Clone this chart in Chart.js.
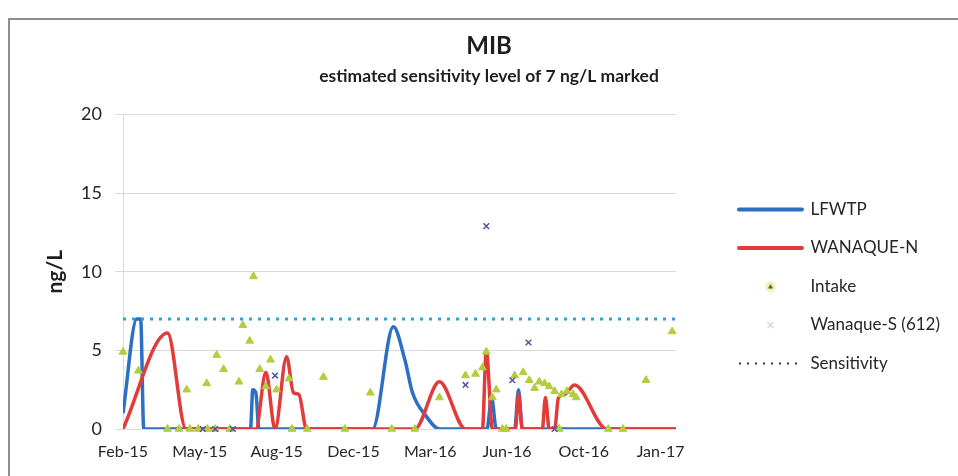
<!DOCTYPE html>
<html>
<head>
<meta charset="utf-8">
<script src="https://cdn.jsdelivr.net/npm/chart.js@4.4.1/dist/chart.umd.min.js"></script>
<style>
  html, body { margin: 0; padding: 0; background: #fff; }
  body { width: 958px; height: 476px; overflow: hidden; position: relative; }
  #frame { position: absolute; left: 8px; top: 18px; width: 950px; height: 458px;
           border-left: 2px solid #8f8f8f; border-top: 2px solid #8f8f8f; }
  #wrap { position: absolute; left: 0; top: 0; width: 948px; height: 456px; }
</style>
</head>
<body>
<div id="frame"><div id="wrap"><canvas id="myChart"></canvas></div></div>
<script>
// x values are days since the first sample (early Feb 2015), one tick every 100 days
const xTickLabels = ['Feb-15', 'May-15', 'Aug-15', 'Dec-15', 'Mar-16', 'Jun-16', 'Oct-16', 'Jan-17'];
const tickStepDays = 100;
const lastDay = 720;
const yTicks = [0, 5, 10, 15, 20];

// LFWTP (blue line)
const lfwtpDays   = [0, 18, 23, 27, 166, 169, 173, 177, 325, 352, 367, 377, 395, 412, 474, 480, 486, 510, 515, 520, 720];
const lfwtpValues = [1.0, 7.0, 7.0, 0, 0, 2.5, 2.3, 0, 0, 6.5, 4.4, 2.3, 0.8, 0, 0, 2.0, 0, 0, 2.5, 0, 0];

// WANAQUE-N (red line)
const wanaqueNDays   = [0, 58, 82, 173, 186, 198, 213, 222, 229, 239, 380, 412, 446, 468, 473, 481, 511, 515, 520, 546, 550, 555, 562, 567, 575, 588, 630, 720];
const wanaqueNValues = [0, 6.1, 0, 0, 3.6, 0, 4.6, 2.3, 2.2, 0, 0, 3.0, 0, 0, 5.0, 0, 0, 2.2, 0, 0, 2.0, 0, 0, 2.0, 2.2, 2.8, 0, 0];

// Intake (triangles)
const intakeDays   = [0, 20, 58, 73, 83, 87, 98, 109, 110, 120, 122, 131, 139, 151, 156, 165, 170, 178, 186, 192,
                      200, 216, 220, 240, 261, 289, 322, 350, 380, 412, 446, 459, 468, 473, 481, 486, 494, 499, 510, 521,
                      529, 536, 542, 549, 555, 562, 568, 571, 578, 586, 590, 632, 651, 681, 715];
const intakeValues = [4.9, 3.7, 0, 0, 2.5, 0, 0, 2.9, 0, 0, 4.7, 3.8, 0, 3.0, 6.6, 5.6, 9.7, 3.8, 2.7, 4.4,
                      2.5, 3.2, 0, 0, 3.3, 0, 2.3, 0, 0, 2.0, 3.4, 3.5, 3.9, 4.9, 2.0, 2.5, 0, 0, 3.4, 3.6,
                      3.1, 2.6, 3.0, 2.9, 2.7, 2.4, 0, 2.2, 2.4, 2.2, 2.0, 0, 0, 3.1, 6.2];

// Wanaque-S (612) (crosses)
const wanaqueSDays   = [104, 120, 143, 198, 446, 473, 507, 528, 562];
const wanaqueSValues = [0, 0, 0, 3.4, 2.8, 12.9, 3.1, 5.5, 0];

// Sensitivity level (ng/L)
const sensitivityDays   = [0, 720];
const sensitivityValues = [7, 7];

const blue = '#2e6fc6';
const red = '#e23b3b';
const green = '#b3cd3c';
const purple = '#55519e';
const dotBlue = '#29a5de';
const textColor = '#1e1e1e';
const legendText = '#262626';

const toPoints = (days, values) => days.map((d, i) => ({ x: d, y: values[i] }));

// small marker images for the legend (the line samples use pointStyleWidth)
function markerImage(size, draw) {
  const c = document.createElement('canvas');
  c.width = size;
  c.height = size;
  draw(c.getContext('2d'), size);
  return c;
}
const legendTriangle = markerImage(12, (g, s) => {
  g.fillStyle = 'rgba(240, 238, 170, 0.8)';
  g.beginPath(); g.arc(s / 2, s / 2, 5.5, 0, Math.PI * 2); g.fill();
  g.fillStyle = '#55552a';
  g.beginPath(); g.moveTo(6, 3.5); g.lineTo(8.5, 8); g.lineTo(3.5, 8); g.closePath(); g.fill();
});
const legendCross = markerImage(10, (g) => {
  g.strokeStyle = '#d6d6e0';
  g.lineWidth = 1.5;
  g.beginPath(); g.moveTo(2, 2); g.lineTo(8, 8); g.moveTo(8, 2); g.lineTo(2, 8); g.stroke();
});

Chart.defaults.font.family = 'Lato, "Open Sans", sans-serif';
Chart.defaults.color = '#262626';

const legendItems = [
  { text: 'LFWTP', pointStyle: 'line', strokeStyle: blue, fillStyle: blue, lineWidth: 4, lineCap: 'round', fontColor: legendText },
  { text: 'WANAQUE-N', pointStyle: 'line', strokeStyle: red, fillStyle: red, lineWidth: 4, lineCap: 'round', fontColor: legendText },
  { text: 'Intake', pointStyle: legendTriangle, strokeStyle: green, fillStyle: green, lineWidth: 0, fontColor: legendText },
  { text: 'Wanaque-S (612)', pointStyle: legendCross, strokeStyle: purple, fillStyle: purple, lineWidth: 0, fontColor: legendText },
  { text: 'Sensitivity', pointStyle: 'line', strokeStyle: '#333', fillStyle: '#333', lineWidth: 2, lineDash: [2, 6], fontColor: legendText }
];

let myChart = document.getElementById('myChart').getContext('2d');

let mibChart = new Chart(myChart, {
  type: 'scatter',
  data: {
    datasets: [{
      label: 'LFWTP',
      data: toPoints(lfwtpDays, lfwtpValues),
      showLine: true,
      borderColor: blue,
      backgroundColor: blue,
      borderWidth: 3.5,
      pointRadius: 0,
      tension: 0.4,
      cubicInterpolationMode: 'monotone',
      order: 5
    }, {
      label: 'WANAQUE-N',
      data: toPoints(wanaqueNDays, wanaqueNValues),
      showLine: true,
      borderColor: red,
      backgroundColor: red,
      borderWidth: 3.5,
      pointRadius: 0,
      tension: 0.4,
      cubicInterpolationMode: 'monotone',
      order: 4
    }, {
      label: 'Intake',
      data: toPoints(intakeDays, intakeValues),
      pointStyle: 'triangle',
      pointRadius: 4.5,
      backgroundColor: green,
      borderColor: green,
      borderWidth: 1,
      clip: false,
      order: 3
    }, {
      label: 'Wanaque-S (612)',
      data: toPoints(wanaqueSDays, wanaqueSValues),
      pointStyle: 'crossRot',
      pointRadius: 4,
      borderColor: purple,
      backgroundColor: purple,
      borderWidth: 1.5,
      clip: false,
      order: 2
    }, {
      label: 'Sensitivity',
      data: toPoints(sensitivityDays, sensitivityValues),
      showLine: true,
      borderColor: dotBlue,
      borderWidth: 3,
      borderDash: [3, 6],
      pointRadius: 0,
      order: 1
    }]
  },
  options: {
    responsive: true,
    maintainAspectRatio: false,
    animation: false,
    events: [],
    layout: { padding: { left: 18, right: 8, top: 0, bottom: 14.4 } },
    scales: {
      x: {
        type: 'linear',
        min: 0,
        max: lastDay,
        grid: { display: false, drawTicks: false },
        border: { display: true, color: '#d9d9d9' },
        ticks: {
          padding: 13.4,
          maxRotation: 0,
          autoSkip: false,
          font: { size: 16 },
          callback: (v, i) => xTickLabels[i]
        },
        afterBuildTicks: s => { s.ticks = xTickLabels.map((_, i) => ({ value: i * tickStepDays })); },
        afterFit: s => { s.height = 32.6; }
      },
      y: {
        min: 0,
        max: 20,
        grid: { color: '#d9d9d9', tickLength: 8 },
        border: { color: '#d9d9d9' },
        ticks: { padding: 13, font: { size: 18 } },
        afterBuildTicks: s => { s.ticks = yTicks.map(v => ({ value: v })); },
        title: {
          display: true,
          text: 'ng/L',
          color: textColor,
          font: { size: 21, weight: 'bold' },
          padding: { top: 14.4, bottom: 0 }
        },
        afterFit: s => { s.width = 95; }
      },
      // empty axis, only keeps the gap between plot and legend
      yPad: {
        position: 'right',
        display: true,
        grid: { display: false },
        border: { display: false },
        ticks: { display: false },
        afterFit: s => { s.width = 41.5; }
      }
    },
    plugins: {
      title: {
        display: true,
        text: 'MIB',
        color: textColor,
        font: { size: 24, weight: 'bold' },
        padding: { top: 11.6, bottom: 2 }
      },
      subtitle: {
        display: true,
        text: 'estimated sensitivity level of 7 ng/L marked',
        color: textColor,
        font: { size: 17.5, weight: 'bold' },
        padding: { top: 3, bottom: 28 }
      },
      legend: {
        position: 'right',
        align: 'start',
        maxWidth: 400,
        title: { display: true, text: '', font: { size: 1 }, padding: { top: 158.3, bottom: 0 } },
        labels: {
          usePointStyle: true,
          pointStyleWidth: 63,
          boxHeight: 5,
          padding: 21.5,
          color: legendText,
          font: { size: 17 },
          generateLabels: () => legendItems
        }
      },
      tooltip: { enabled: false }
    }
  }
});
</script>
</body>
</html>
